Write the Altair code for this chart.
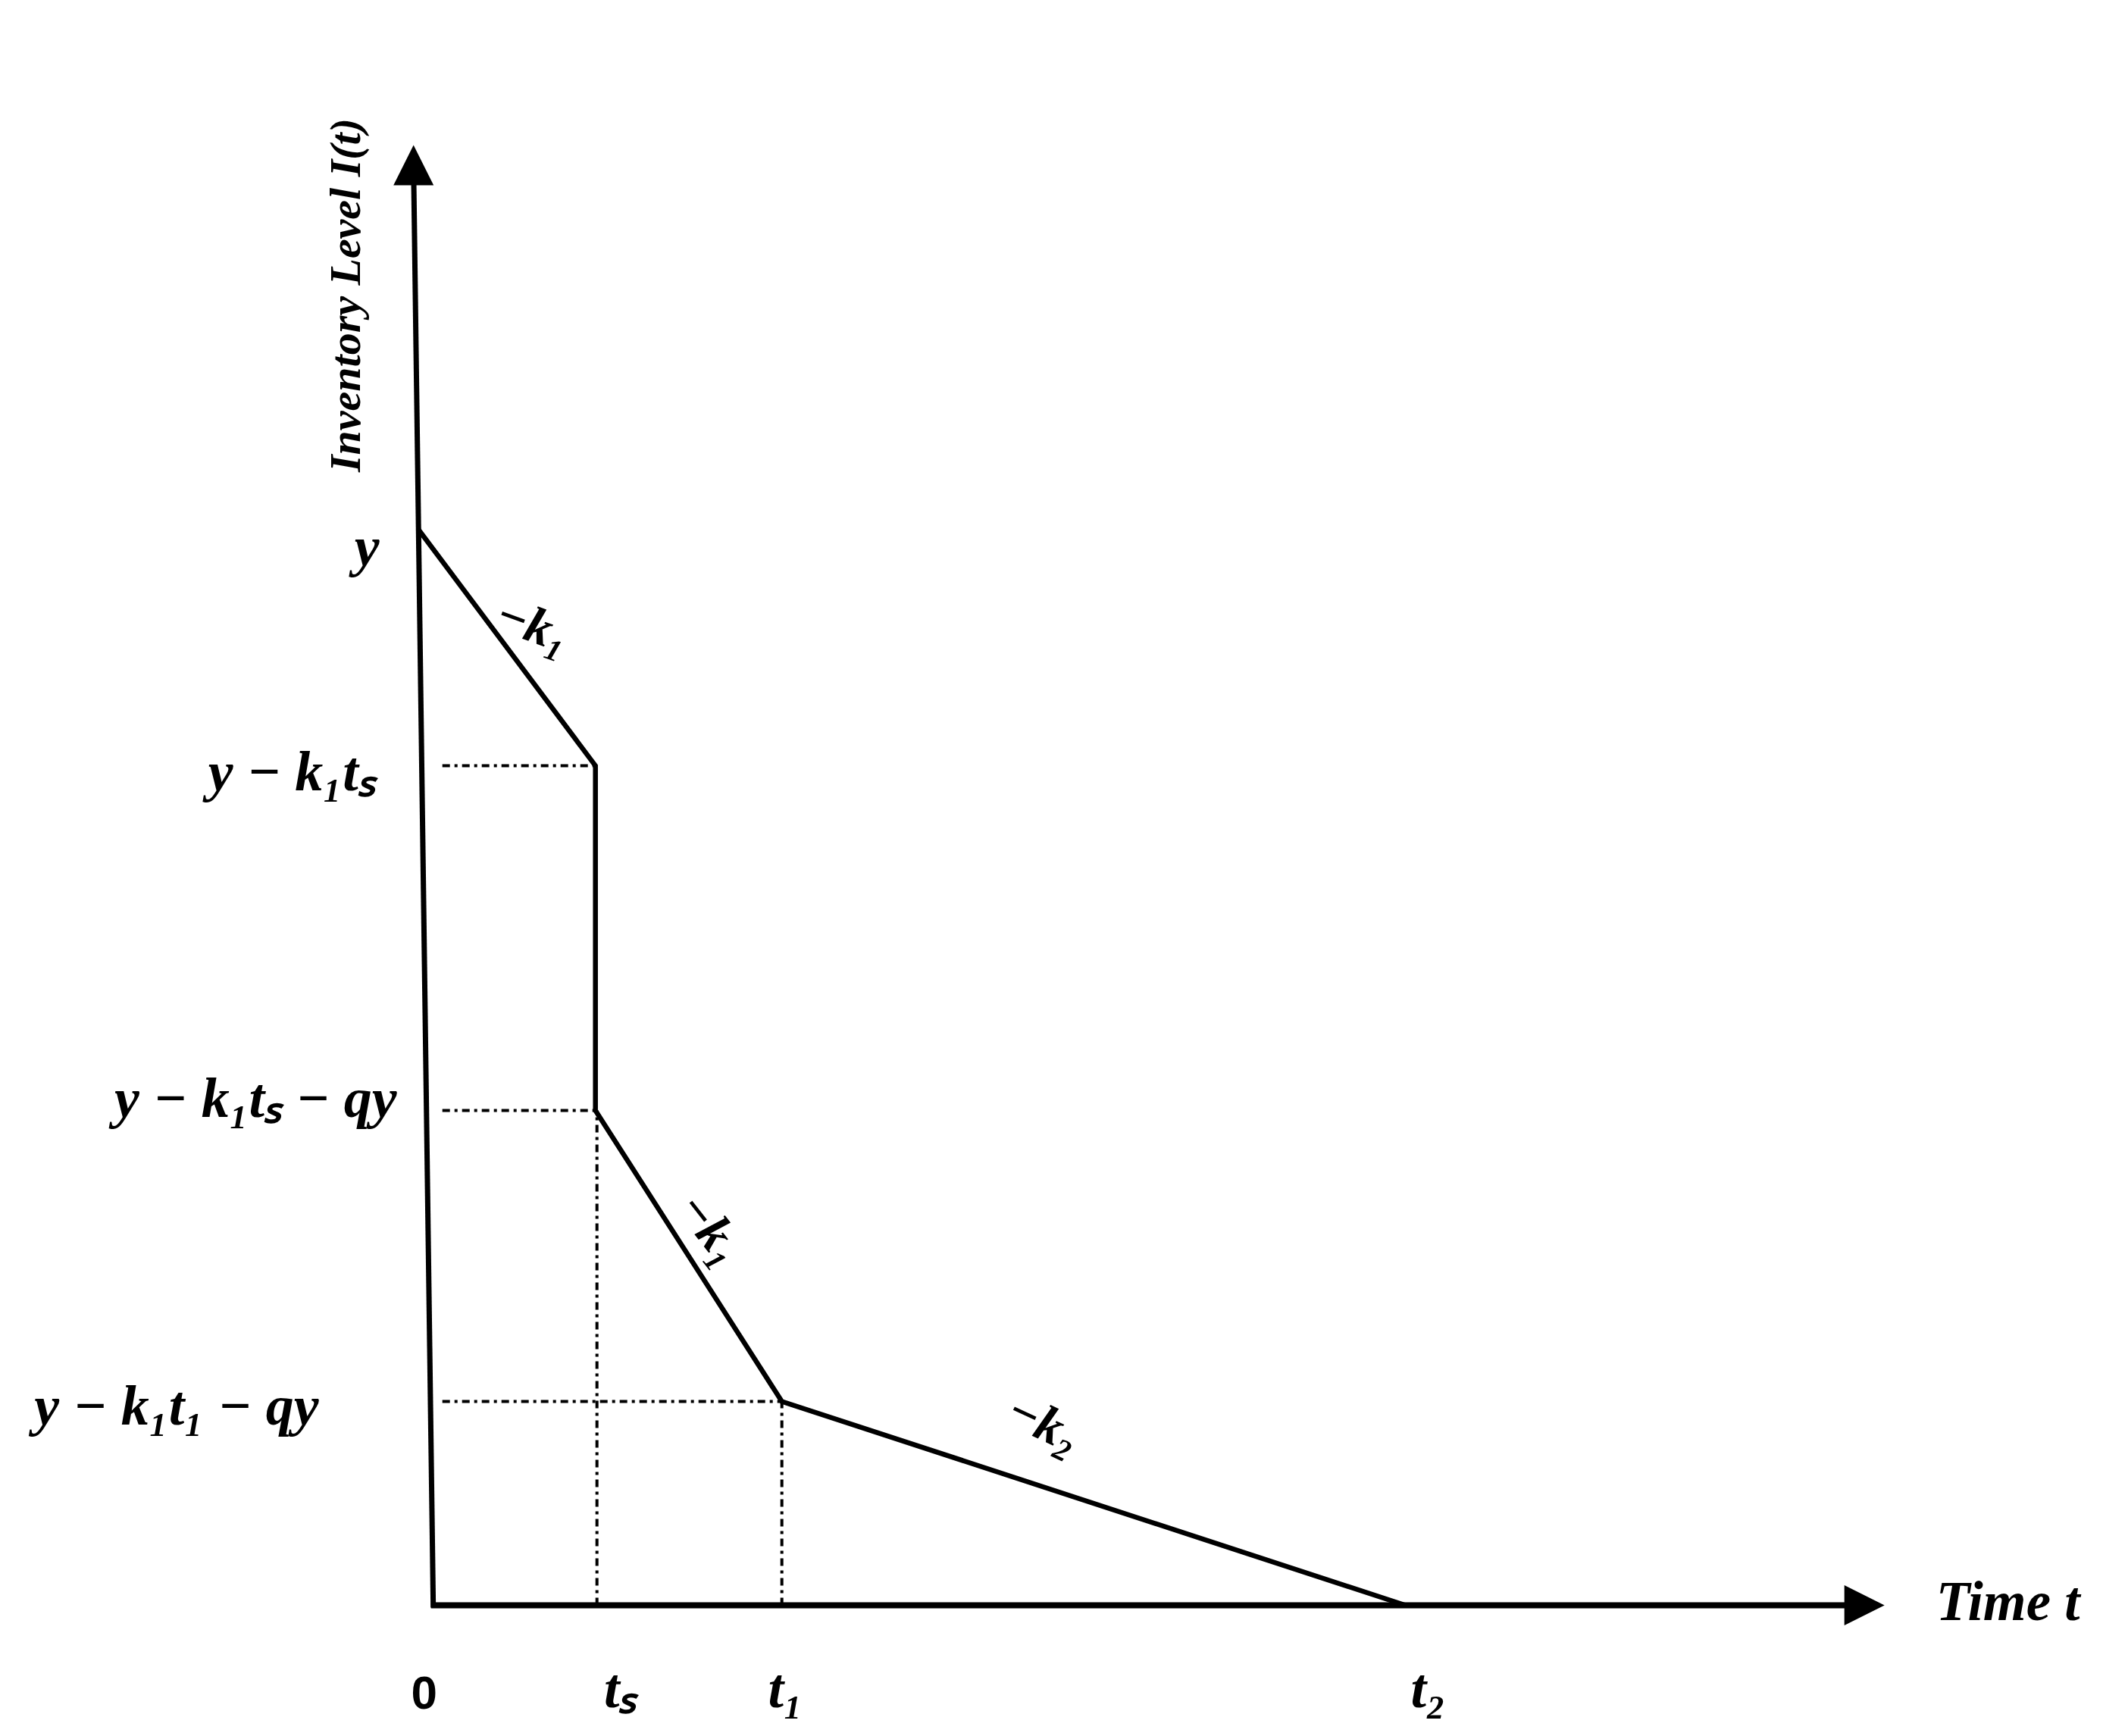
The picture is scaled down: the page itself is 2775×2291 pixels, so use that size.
import altair as alt
import pandas as pd

# ---------------- values (1 unit ≈ 100 px of the original) ----
time_names = ["0", "tₛ", "t₁", "t₂"]
time_values = [0.0, 2.14, 4.60, 12.83]

level_names = ["y", "y − k₁tₛ", "y − k₁tₛ − qy", "y − k₁t₁ − qy"]
level_values = [14.19, 11.08, 6.53, 2.69]

# inventory profile I(t)
profile_t = [-0.19, 2.14, 2.14, 4.60, 12.83]
profile_I = [14.19, 11.08, 6.53, 2.69, 0.0]

# dash-dot guide lines
hguide_I = [11.08, 6.53, 2.69]
hguide_start = [0.12, 0.12, 0.12]
hguide_end = [2.14, 2.14, 4.60]
vguide_t = [2.16, 4.60]
vguide_top = [6.53, 2.69]

# hand-drawn axes (arrows)
xaxis_t = [-0.03, 18.9]
xaxis_I = [0.0, 0.0]
yaxis_t = [0.0, -0.26]
yaxis_I = [-0.03, 19.0]
arrow_t = [-0.26, 18.885]
arrow_I = [19.005, 0.0]

# slope annotations
slope_names = ["−k₁", "−k₁", "−k₂"]
slope_t = [1.31, 3.65, 8.05]
slope_I = [12.92, 4.96, 2.39]
slope_angle = [20, 52, 25]

ytitle_text = "Inventory Level I(t)"
ytitle_t, ytitle_I = -1.14, 17.29
xtitle_text = "Time t"
xtitle_t, xtitle_I = 19.15, 0.0

# ---------------- layout / style ----------------
W, H = 2759, 2275
xscale = alt.Scale(domain=[-5.637, 21.953], nice=False, zero=False)
yscale = alt.Scale(domain=[-1.645, 21.105], nice=False, zero=False)
SERIF = "Liberation Serif"
INK = "#000000"


def enc(tcol="t", icol="I"):
    return dict(
        x=alt.X(f"{tcol}:Q", scale=xscale, axis=None),
        y=alt.Y(f"{icol}:Q", scale=yscale, axis=None),
    )


layers = []

# axes lines
df_xaxis = pd.DataFrame({"t": xaxis_t, "I": xaxis_I})
layers.append(
    alt.Chart(df_xaxis).mark_line(color=INK, strokeWidth=8, strokeCap="butt").encode(**enc())
)
df_yaxis = pd.DataFrame({"t": yaxis_t, "I": yaxis_I})
layers.append(
    alt.Chart(df_yaxis)
    .mark_line(color=INK, strokeWidth=7, strokeCap="butt")
    .encode(**enc(), order=alt.Order("I:Q"))
)

# arrow heads
df_arrow = pd.DataFrame({"t": arrow_t, "I": arrow_I, "k": ["up", "right"]})
layers.append(
    alt.Chart(df_arrow.iloc[[0]])
    .mark_point(shape="M0,-1L1,1L-1,1Z", filled=True, size=2809, color=INK, opacity=1, strokeWidth=0)
    .encode(**enc())
)
layers.append(
    alt.Chart(df_arrow.iloc[[1]])
    .mark_point(shape="M1,0L-1,1L-1,-1Z", filled=True, size=2809, color=INK, opacity=1, strokeWidth=0)
    .encode(**enc())
)

# dash-dot guides
DASH = [10, 6, 4, 6]
df_h = pd.DataFrame({"t": hguide_start, "t2": hguide_end, "I": hguide_I})
layers.append(
    alt.Chart(df_h)
    .mark_rule(color=INK, strokeWidth=4, strokeDash=DASH)
    .encode(x=alt.X("t:Q", scale=xscale, axis=None), x2="t2:Q",
            y=alt.Y("I:Q", scale=yscale, axis=None))
)
df_v = pd.DataFrame({"t": vguide_t, "I": [0.0] * len(vguide_t), "I2": vguide_top})
layers.append(
    alt.Chart(df_v)
    .mark_rule(color=INK, strokeWidth=4, strokeDash=DASH)
    .encode(x=alt.X("t:Q", scale=xscale, axis=None),
            y=alt.Y("I:Q", scale=yscale, axis=None), y2="I2:Q")
)

# inventory profile
df_prof = pd.DataFrame({"t": profile_t, "I": profile_I, "k": list(range(len(profile_t)))})
layers.append(
    alt.Chart(df_prof)
    .mark_line(color=INK, strokeWidth=6.5, strokeJoin="miter")
    .encode(**enc(), order=alt.Order("k:Q"))
)

# level labels on the left
ylab_dx = [-71, -76, -48, -151]
ylab_dy = [24, 10, -14, 8]
for name, val, dx, dy in zip(level_names, level_values, ylab_dx, ylab_dy):
    d = pd.DataFrame({"t": [0.0], "I": [val], "label": [name]})
    layers.append(
        alt.Chart(d)
        .mark_text(font=SERIF, fontSize=74, fontStyle="italic", fontWeight="bold",
                   align="right", baseline="middle", dx=dx, dy=dy, color=INK)
        .encode(**enc(), text="label:N")
    )

# time labels below the axis
xlab_dx = [-12, 33, 5, 30]
for name, val, dx in zip(time_names, time_values, xlab_dx):
    d = pd.DataFrame({"t": [val], "I": [0.0], "label": [name]})
    if name == "0":
        mk = alt.Chart(d).mark_text(font="Liberation Sans", fontSize=62, fontWeight="bold",
                                    align="center", baseline="middle", dx=dx, dy=117, color=INK)
    else:
        mk = alt.Chart(d).mark_text(font=SERIF, fontSize=74, fontStyle="italic", fontWeight="bold",
                                    align="center", baseline="middle", dx=dx, dy=112, color=INK)
    layers.append(mk.encode(**enc(), text="label:N"))

# slope labels
for name, t, i, ang in zip(slope_names, slope_t, slope_I, slope_angle):
    d = pd.DataFrame({"t": [t], "I": [i], "label": [name]})
    layers.append(
        alt.Chart(d)
        .mark_text(font=SERIF, fontSize=68, fontStyle="italic", fontWeight="bold",
                   align="center", baseline="middle", angle=ang, color=INK)
        .encode(**enc(), text="label:N")
    )

# axis titles
d = pd.DataFrame({"t": [ytitle_t], "I": [ytitle_I], "label": [ytitle_text]})
layers.append(
    alt.Chart(d)
    .mark_text(font=SERIF, fontSize=58, fontStyle="italic", fontWeight="bold",
               align="center", baseline="middle", angle=270, color=INK)
    .encode(**enc(), text="label:N")
)
d = pd.DataFrame({"t": [xtitle_t], "I": [xtitle_I], "label": [xtitle_text]})
layers.append(
    alt.Chart(d)
    .mark_text(font=SERIF, fontSize=73, fontStyle="italic", fontWeight="bold",
               align="left", baseline="middle", dx=68, dy=-3, color=INK)
    .encode(**enc(), text="label:N")
)

chart = (
    alt.layer(*layers)
    .properties(width=W, height=H, autosize=alt.AutoSizeParams(type="none"),
                padding=0, background="white")
    .configure_view(strokeWidth=0)
)

chart.save("out.html", embed_options={"renderer": "svg", "actions": False})
